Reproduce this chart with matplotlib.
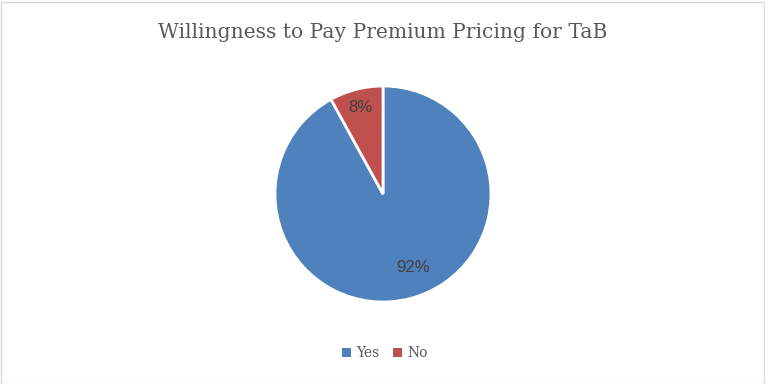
import matplotlib
matplotlib.use("Agg")
import matplotlib.pyplot as plt
from matplotlib.patches import Rectangle
import numpy as np

title = "Willingness to Pay Premium Pricing for TaB"
categories = ["Yes", "No"]
values = [92, 8]
colors = ["#4F81BD", "#C0504D"]

W, H = 765, 384
fig = plt.figure(figsize=(W/100, H/100), dpi=100)
fig.patch.set_facecolor("white")
fig.patches.append(Rectangle((0.5/W, 0.5/H), 1 - 2/W, 1 - 2/H, transform=fig.transFigure,
                             fill=False, edgecolor="#D9D9D9", linewidth=1))

cx, cy, r = 383, 194, 108
ax = fig.add_axes([(cx - r)/W, (H - cy - r)/H, 2*r/W, 2*r/H])
wedges, texts, autotexts = ax.pie(values, colors=colors, startangle=90, counterclock=False,
                                  autopct=lambda p: f"{p:.0f}%", pctdistance=0.78,
                                  wedgeprops=dict(edgecolor="white", linewidth=2),
                                  textprops=dict(color="#404040", fontsize=12, family="Liberation Sans"))
# label placement (distance from centre, angular offset in degrees)
dists = [0.74, 0.83]
offsets = [8, 0]
for w, t, d, o in zip(wedges, autotexts, dists, offsets):
    ang = np.deg2rad((w.theta1 + w.theta2) / 2 + o)
    t.set_position((d*np.cos(ang), d*np.sin(ang)))
ax.set_xlim(-1, 1)
ax.set_ylim(-1, 1)
ax.set_aspect("equal")

fig.text(cx/W, 1 - 33/H, title, ha="center", va="center", fontsize=14.6,
         family="DejaVu Serif", color="#595959")

leg = fig.legend(wedges, categories, loc="center", bbox_to_anchor=(385/W, 1 - 353/H),
                 ncol=2, frameon=False, handlelength=0.6, handleheight=0.6,
                 handletextpad=0.4, columnspacing=1.0,
                 prop=dict(family="DejaVu Serif", size=10))
for t in leg.get_texts():
    t.set_color("#595959")
for h in leg.legend_handles:
    h.set_edgecolor("none")

fig.savefig("out.png", dpi=100, facecolor="white")
